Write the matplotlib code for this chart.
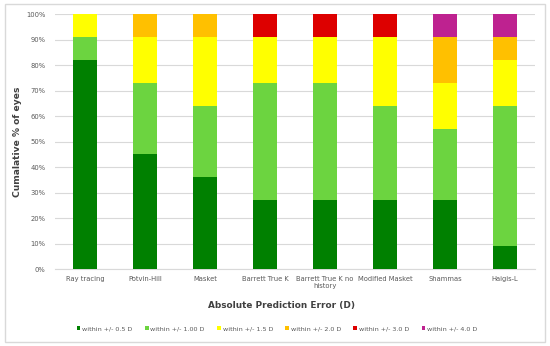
import matplotlib
matplotlib.use("Agg")
import matplotlib.pyplot as plt
from matplotlib.patches import Rectangle
import numpy as np

categories = ["Ray tracing", "Potvin-Hill", "Masket", "Barrett True K",
              "Barrett True K no\nhistory", "Modified Masket", "Shammas", "Haigis-L"]
series_names = ["within +/- 0.5 D", "within +/- 1.00 D", "within +/- 1.5 D",
                "within +/- 2.0 D", "within +/- 3.0 D", "within +/- 4.0 D"]
within_05 = [82, 45, 36, 27, 27, 27, 27, 9]
within_10 = [9, 28, 28, 46, 46, 37, 28, 55]
within_15 = [9, 18, 27, 18, 18, 27, 18, 18]
within_20 = [0, 9, 9, 0, 0, 0, 18, 9]
within_30 = [0, 0, 0, 9, 9, 9, 0, 0]
within_40 = [0, 0, 0, 0, 0, 0, 9, 9]
series = [within_05, within_10, within_15, within_20, within_30, within_40]
colors = ["#008000", "#6CD440", "#FFFF00", "#FFC000", "#DD0000", "#BE2290"]

fig = plt.figure(figsize=(5.5, 3.46), dpi=100)
fig.patches.append(Rectangle((0.009, 0.012), 0.982, 0.976, transform=fig.transFigure,
                             fill=False, edgecolor="#D9D9D9", linewidth=1))
ax = fig.add_axes([0.1, 0.2225, 0.873, 0.737])
x = np.arange(len(categories))
bottom = np.zeros(len(categories))
for name, vals, c in zip(series_names, series, colors):
    ax.bar(x, vals, 0.4, bottom=bottom, color=c, label=name, zorder=3)
    bottom += np.array(vals)

ax.set_xlim(-0.5, len(categories) - 0.5)
ax.set_ylim(0, 100)
ax.set_yticks(np.arange(0, 101, 10))
ax.set_yticklabels([f"{v}%" for v in range(0, 101, 10)])
ax.set_xticks(x)
ax.set_xticklabels(categories, linespacing=1.3)
ax.tick_params(axis="both", length=0, labelsize=4.9, colors="#595959")
ax.tick_params(axis="x", pad=5)
ax.tick_params(axis="y", pad=7)
ax.grid(axis="y", color="#D9D9D9", linewidth=0.8, zorder=0)
for s in ["top", "right", "left"]:
    ax.spines[s].set_visible(False)
ax.spines["bottom"].set_color("#D9D9D9")
ax.set_ylabel("Cumalative % of eyes", fontsize=6.6, fontweight="bold", color="#404040")
ax.yaxis.set_label_coords(-0.069, 0.5)
ax.set_xlabel("Absolute Prediction Error (D)", fontsize=6.4, fontweight="bold", color="#404040")
ax.xaxis.set_label_coords(0.471, -0.126)
ax.legend(loc="center", bbox_to_anchor=(0.4625, -0.235), ncol=6, frameon=False,
          fontsize=4.6, handlelength=0.6, handleheight=0.6, handletextpad=0.3,
          columnspacing=1.9, labelcolor="#595959")
fig.savefig("out.png", dpi=100)
